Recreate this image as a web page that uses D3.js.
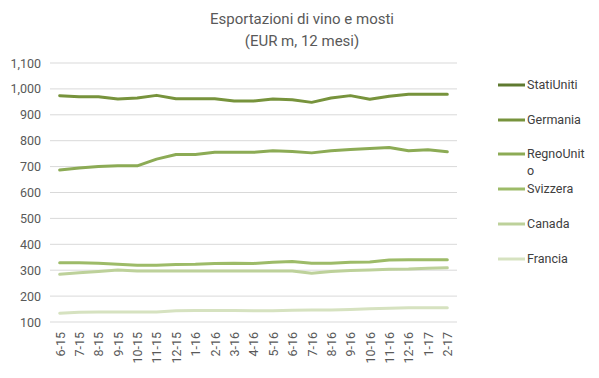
<!DOCTYPE html>
<html>
<head>
<meta charset="utf-8">
<script src="https://cdn.jsdelivr.net/npm/d3@7"></script>
<style>
  body { margin: 0; background: #fff; }
  text { font-family: "Roboto", "Liberation Sans", sans-serif; }
</style>
</head>
<body>
<script>
// Month labels (m-yy)
const months = ["6-15","7-15","8-15","9-15","10-15","11-15","12-15","1-16","2-16","3-16","4-16",
                "5-16","6-16","7-16","8-16","9-16","10-16","11-16","12-16","1-17","2-17"];

// Series values (EUR m, rolling 12 months)
const statiUniti = [];   // listed in the legend, no line visible in the chart
const germania   = [974, 970, 970, 961, 965, 975, 962, 962, 962, 953, 953, 961, 958, 948, 965, 974, 960, 972, 979, 979, 979];
const regnoUnito = [687, 695, 700, 703, 703, 729, 747, 747, 755, 755, 755, 761, 758, 753, 761, 766, 770, 774, 761, 765, 757];
const svizzera   = [329, 329, 327, 323, 319, 319, 322, 323, 326, 327, 326, 331, 334, 327, 327, 331, 332, 339, 340, 340, 340];
const canada     = [284, 290, 295, 301, 297, 297, 297, 297, 297, 297, 297, 297, 297, 288, 295, 299, 301, 304, 305, 308, 309];
const francia    = [134, 138, 139, 139, 139, 139, 143, 144, 144, 144, 143, 143, 145, 146, 146, 148, 151, 153, 155, 155, 155];

const yTicks = [100, 200, 300, 400, 500, 600, 700, 800, 900, 1000, 1100];

const series = [
    { name: "StatiUniti", values: statiUniti, color: "#5f7a30" },
    { name: "Germania",   values: germania,   color: "#77933c" },
    { name: "RegnoUnito", values: regnoUnito, color: "#8cab55" },
    { name: "Svizzera",   values: svizzera,   color: "#9dbb68" },
    { name: "Canada",     values: canada,     color: "#bdd19a" },
    { name: "Francia",    values: francia,    color: "#d6e2c0" }
];

const width = 599, height = 378;
const margin = { left: 50, right: 142, top: 63, bottom: 56 };

const svg = d3.select("body").append("svg")
    .attr("width", width)
    .attr("height", height);

const x = d3.scalePoint()
    .domain(months)
    .range([margin.left, width - margin.right])
    .padding(0.5);

const y = d3.scaleLinear()
    .domain([100, 1100])
    .range([height - margin.bottom, margin.top]);

// Title
svg.append("text")
    .attr("x", 302)
    .attr("y", 24)
    .attr("text-anchor", "middle")
    .style("font-size", "15px")
    .style("fill", "#595959")
    .text("Esportazioni di vino e mosti");
svg.append("text")
    .attr("x", 302)
    .attr("y", 46)
    .attr("text-anchor", "middle")
    .style("font-size", "15px")
    .style("fill", "#595959")
    .text("(EUR m,  12 mesi)");

// Gridlines
svg.append("g")
    .selectAll("line")
    .data(yTicks)
    .enter()
    .append("line")
    .attr("x1", margin.left)
    .attr("x2", width - margin.right)
    .attr("y1", d => y(d))
    .attr("y2", d => y(d))
    .attr("stroke", "#d9d9d9")
    .attr("stroke-width", 1);

// Y axis
const yAxis = svg.append("g")
    .attr("transform", `translate(${margin.left},0)`)
    .call(d3.axisLeft(y).tickValues(yTicks).tickSize(0).tickPadding(9).tickFormat(d3.format(",")));
yAxis.select(".domain").remove();
yAxis.selectAll("text")
    .style("font-size", "12.5px")
    .style("fill", "#595959")
    .style("font-family", "Roboto, sans-serif");

// X axis
const xAxis = svg.append("g")
    .attr("transform", `translate(0,${height - margin.bottom})`)
    .call(d3.axisBottom(x).tickSize(0).tickPadding(0));
xAxis.select(".domain").remove();
xAxis.selectAll("text")
    .attr("transform", "rotate(-90)")
    .attr("x", -10)
    .attr("y", 0)
    .attr("dy", "0.35em")
    .style("text-anchor", "end")
    .style("font-size", "12.5px")
    .style("fill", "#595959")
    .style("font-family", "Roboto, sans-serif");

// Lines
const line = d3.line()
    .defined(d => d != null)
    .x((d, i) => x(months[i]))
    .y(d => y(d));

svg.append("g")
    .selectAll("path")
    .data(series.slice().reverse())
    .enter()
    .append("path")
    .attr("d", d => line(d.values))
    .attr("fill", "none")
    .attr("stroke", d => d.color)
    .attr("stroke-width", 3)
    .attr("stroke-linejoin", "round")
    .attr("stroke-linecap", "round");

// Legend
const legendY = [85, 120, 154, 189, 224, 259];
const legend = svg.append("g")
    .selectAll("g")
    .data(series)
    .enter()
    .append("g")
    .attr("transform", (d, i) => `translate(498,${legendY[i]})`);

legend.append("line")
    .attr("x1", 0)
    .attr("x2", 27)
    .attr("stroke", d => d.color)
    .attr("stroke-width", 3);

legend.each(function (d) {
    const t = d3.select(this).append("text")
        .attr("x", 29)
        .attr("y", 0)
        .attr("dy", "0.35em")
        .style("font-size", "12.5px")
        .style("fill", "#404040");
    // the legend column is narrow, RegnoUnito wraps its last letter
    if (d.name === "RegnoUnito") {
        t.text(d.name.slice(0, 9));
        d3.select(this).append("text")
            .attr("x", 29)
            .attr("y", 17)
            .attr("dy", "0.35em")
            .style("font-size", "12.5px")
            .style("fill", "#404040")
            .text(d.name.slice(9));
    } else {
        t.text(d.name);
    }
});
</script>
</body>
</html>
